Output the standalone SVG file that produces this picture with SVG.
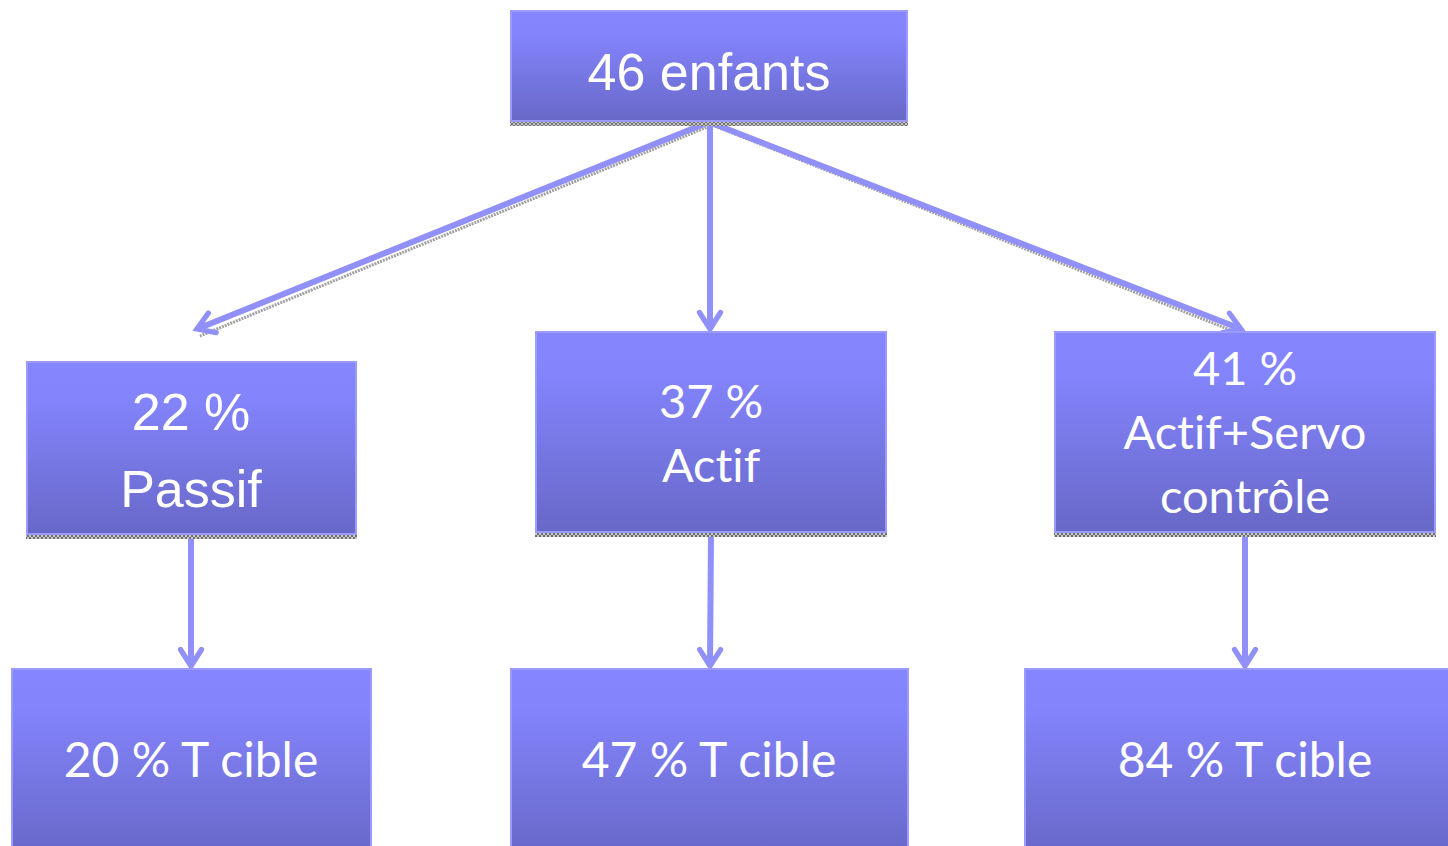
<svg xmlns="http://www.w3.org/2000/svg" width="1448" height="846" viewBox="0 0 1448 846">
<defs>
<linearGradient id="g" x1="0" y1="0" x2="0" y2="1">
<stop offset="0" stop-color="#8585ff"/>
<stop offset="0.2" stop-color="#8484fd"/>
<stop offset="1" stop-color="#6868c8"/>
</linearGradient>
<pattern id="hatch" width="4" height="4" patternUnits="userSpaceOnUse">
<rect width="4" height="4" fill="#c8c8c8"/>
<path d="M0 0L4 4M4 0L0 4" stroke="#707070" stroke-width="1"/>
</pattern>
<marker id="arr" viewBox="0 0 20 20" refX="14" refY="10" markerWidth="5" markerHeight="5" markerUnits="strokeWidth" orient="auto">
<path d="M3 3L14 10L3 17" fill="none" stroke="#9090f8" stroke-width="3.5" stroke-linecap="round" stroke-linejoin="miter"/>
</marker>
</defs>
<style>
.box{fill:url(#g);stroke:#9a9aff;stroke-width:2}
.sh{fill:url(#hatch)}
.t1{font-family:"Liberation Sans",Arial,sans-serif;fill:#fff;text-anchor:middle}
.t2{font-family:Lato,"Open Sans",sans-serif;fill:#fff;text-anchor:middle;font-variant-ligatures:none;font-feature-settings:"liga" 0}
.c{stroke:#9090f8;stroke-width:6;fill:none;marker-end:url(#arr)}
.cs{stroke:#8a8a8a;stroke-width:3;fill:none;opacity:0.8;stroke-dasharray:2 1}
</style>
<g id="connectors">
<line class="cs" x1="712" y1="125" x2="200" y2="336"/>
<line class="cs" x1="712" y1="125" x2="1238" y2="333"/>
<line class="c" x1="709" y1="122" x2="197" y2="329"/>
<line class="c" x1="710" y1="122" x2="710" y2="329"/>
<line class="c" x1="709" y1="122" x2="1241" y2="329"/>
<line class="c" x1="191" y1="536" x2="191" y2="666"/>
<line class="c" x1="711" y1="534" x2="710" y2="666"/>
<line class="c" x1="1245" y1="534" x2="1245" y2="666"/>
</g>
<g id="n-top">
<rect class="sh" x="510" y="121" width="398" height="5"/>
<rect class="box" x="511" y="11" width="396" height="110"/>
<text class="t1" x="709" y="90" font-size="52">46 enfants</text>
</g>
<g id="n-passif">
<rect class="sh" x="26" y="534" width="331" height="5"/>
<rect class="box" x="27" y="362" width="329" height="172"/>
<text class="t1" x="191" y="430" font-size="52">22 %</text>
<text class="t1" x="191" y="507" font-size="52">Passif</text>
</g>
<g id="n-actif">
<rect class="sh" x="535" y="532" width="352" height="5"/>
<rect class="box" x="536" y="332" width="350" height="200"/>
<text class="t2" x="711" y="418" font-size="47">37 %</text>
<text class="t2" x="711" y="482" font-size="47">Actif</text>
</g>
<g id="n-servo">
<rect class="sh" x="1054" y="532" width="382" height="5"/>
<rect class="box" x="1055" y="332" width="380" height="200"/>
<text class="t2" x="1245" y="385" font-size="47">41 %</text>
<text class="t2" x="1245" y="449" font-size="47">Actif+Servo</text>
<text class="t2" x="1245" y="513" font-size="47">contrôle</text>
</g>
<g id="n-b1">
<rect class="box" x="12" y="669" width="359" height="185"/>
<text class="t2" x="191" y="777" font-size="48">20 % T cible</text>
</g>
<g id="n-b2">
<rect class="box" x="511" y="669" width="397" height="185"/>
<text class="t2" x="709" y="777" font-size="48">47 % T cible</text>
</g>
<g id="n-b3">
<rect class="box" x="1025" y="669" width="430" height="185"/>
<text class="t2" x="1245" y="777" font-size="48">84 % T cible</text>
</g>
</svg>
